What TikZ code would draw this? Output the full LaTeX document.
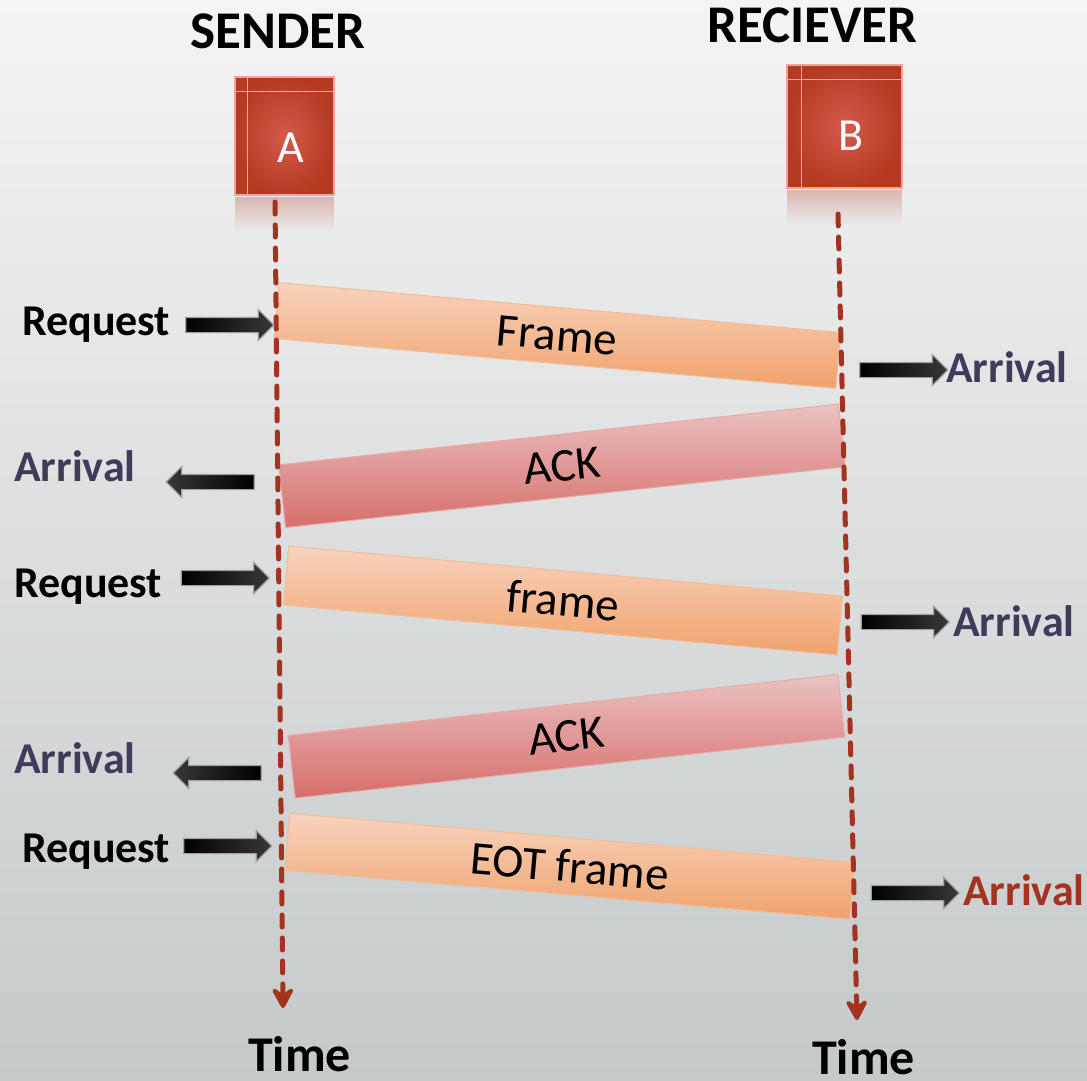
\documentclass[tikz,border=0pt]{standalone}
\usepackage{fontspec}
\setmainfont{Carlito}
\usetikzlibrary{shapes.arrows,arrows.meta,fadings}
\definecolor{bgtop}{HTML}{F4F4F4}
\definecolor{bgmid}{HTML}{E2E3E3}
\definecolor{bgbot}{HTML}{C5C9CA}
\definecolor{lifered}{HTML}{A3321E}
\definecolor{boxdark}{HTML}{B63A22}
\definecolor{boxlight}{HTML}{D35B4B}
\definecolor{boxline}{HTML}{EBA59A}
\definecolor{frtop}{HTML}{F8D3BE}
\definecolor{frbot}{HTML}{F0A26C}
\definecolor{frline}{HTML}{F4BC96}
\definecolor{acktop}{HTML}{EBC2C2}
\definecolor{ackbot}{HTML}{D66E6B}
\definecolor{ackline}{HTML}{E8AAA8}
\definecolor{arrtxt}{HTML}{3F3B5B}
\definecolor{redtxt}{HTML}{A3321E}
\tikzfading[name=fadedown, top color=transparent!0, bottom color=transparent!100]
\tikzset{
  band/.style={draw, line width=1pt, inner sep=0pt, font=\fontsize{47}{52}\selectfont},
  frameband/.style={band, draw=frline, top color=frtop, bottom color=frbot},
  ackband/.style={band, draw=ackline, top color=acktop, bottom color=ackbot},
  lbl/.style={anchor=base west, inner sep=0pt, font=\bfseries\fontsize{44}{48}\selectfont},
  arrlbl/.style={lbl, text=arrtxt},
  title/.style={anchor=base west, inner sep=0pt, font=\bfseries\fontsize{53}{58}\selectfont},
  timelbl/.style={anchor=base west, inner sep=0pt, font=\bfseries\fontsize{50}{54}\selectfont},
  blockarrow/.style={single arrow, draw=gray!75, line width=1.2pt, minimum height=88pt,
     minimum width=30pt, single arrow head extend=8pt, single arrow head indent=0pt, inner sep=7pt},
  blockR/.style={blockarrow, left color=black, right color=black!78},
  blockL/.style={blockarrow, shape border rotate=180, left color=black!78, right color=black},
  life/.style={lifered, line width=5pt, dash pattern=on 12pt off 11pt, line cap=round,
     -{Stealth[length=26pt,width=28pt,inset=10pt,round]}},
  procbox/.style={draw=boxline, line width=1.5pt, inner color=boxlight, outer color=boxdark},
  boxtxt/.style={text=white, font=\fontsize{46}{50}\selectfont, inner sep=0pt}
}
\begin{document}
\begin{tikzpicture}[x=1pt,y=-1pt]
\useasboundingbox (0,0) rectangle (1087,1080);
\shade[top color=bgtop, middle color=bgmid, bottom color=bgbot] (0,0) rectangle (1087,1080);

% titles
\node[title] (snd) at (190,48) {SENDER};
\node[title] (rcv) at (707,42) {RECIEVER};

% boxes with reflections
\fill[boxdark, opacity=0.3, path fading=fadedown] (235,197) rectangle (334,232);
\fill[boxdark, opacity=0.3, path fading=fadedown] (787,190) rectangle (902,225);
\node[procbox, minimum width=99pt, minimum height=118pt] (A) at (284.5,136) {};
\draw[boxline, line width=1.5pt] ([xshift=13pt]A.north west) -- ([xshift=13pt]A.south west);
\draw[boxline, line width=1.5pt] ([yshift=-15pt]A.north west) -- ([yshift=-15pt]A.north east);
\node[boxtxt] (Atxt) at (291,148) {A};
\node[procbox, minimum width=115pt, minimum height=123pt] (B) at (844.5,126.5) {};
\draw[boxline, line width=1.5pt] ([xshift=15pt]B.north west) -- ([xshift=15pt]B.south west);
\draw[boxline, line width=1.5pt] ([yshift=-15pt]B.north west) -- ([yshift=-15pt]B.north east);
\node[boxtxt] (Btxt) at (851,136) {B};

% lifelines
\coordinate (ta) at (275,202);
\coordinate (ba) at (283,1008);
\coordinate (tb) at (838,214);
\coordinate (bb) at (857,1020);

% bands
\node[frameband, rotate=-5.08, minimum width=564pt, minimum height=56pt] (f1) at (557.3,335.5) {Frame};
\node[ackband, rotate=6.2, minimum width=563pt, minimum height=63pt] (k1) at (562,465.8) {ACK};
\node[frameband, rotate=-5.16, minimum width=556pt, minimum height=59pt] (f2) at (563,600.5) {frame};
\node[ackband, rotate=6.33, minimum width=553pt, minimum height=63pt] (k2) at (566.5,736.3) {ACK};
\node[frameband, rotate=-4.96, minimum width=567pt, minimum height=57pt] (f3) at (569.8,866.3) {EOT frame};

\draw[life] (ta) -- (ba);
\draw[life] (tb) -- (bb);

% labels and block arrows
\node[lbl] (req1) at (22,335) {Request};
\node[blockR] (ar1) at (226,325) {};
\node[arrlbl] (arv1) at (946,382) {Arrival};
\node[blockR] (ar2) at (900,370) {};
\node[arrlbl] (arv2) at (14,481) {Arrival};
\node[blockL] (al1) at (214,482) {};
\node[lbl] (req2) at (14,597) {Request};
\node[blockR] (ar3) at (221.5,578) {};
\node[arrlbl] (arv3) at (953,636) {Arrival};
\node[blockR] (ar4) at (901.5,622) {};
\node[arrlbl] (arv4) at (14,773) {Arrival};
\node[blockL] (al2) at (221,773) {};
\node[lbl] (req3) at (22,862) {Request};
\node[blockR] (ar5) at (224,846) {};
\node[lbl, text=redtxt] (arv5) at (963,905) {Arrival};
\node[blockR] (ar6) at (911.5,893) {};

% time labels
\node[timelbl] (timeA) at (248,1071) {Time};
\node[timelbl] (timeB) at (812,1074) {Time};
\end{tikzpicture}
\end{document}
